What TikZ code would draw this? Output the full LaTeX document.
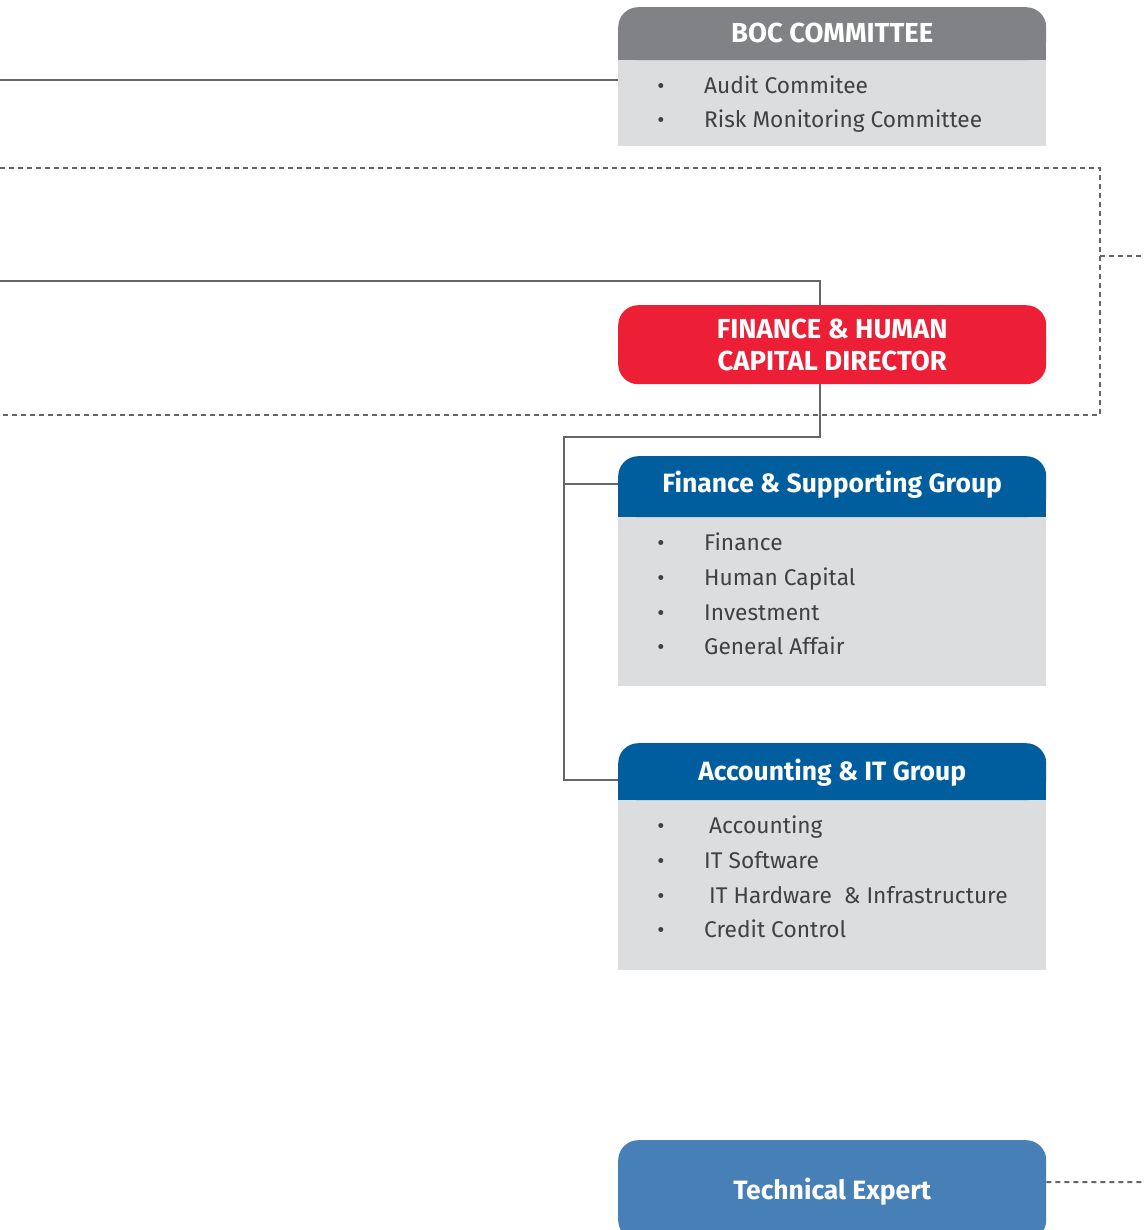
\documentclass[tikz,border=0pt]{standalone}
\usepackage{fontspec}
\setmainfont{Fira Sans}
\usetikzlibrary{calc}
\definecolor{bocgray}{HTML}{808285}
\definecolor{bodygray}{HTML}{DCDDDF}
\definecolor{dirred}{HTML}{ED1F36}
\definecolor{grpblue}{HTML}{005E9F}
\definecolor{techblue}{HTML}{4780B6}
\definecolor{linegray}{HTML}{666666}
\definecolor{txtgray}{HTML}{414042}
\tikzset{
  hdrbase/.style={rounded corners=20pt, minimum width=428pt, inner sep=0pt, text=white,
     font=\fontsize{26.5}{30}\selectfont\bfseries, anchor=north west},
  hdr/.style={hdrbase, text height=18.5pt, text depth=0pt},
  capshdr/.style={font=\fontsize{27.5}{32}\selectfont\bfseries},
  bodybox/.style={fill=bodygray, minimum width=428pt, inner sep=0pt, anchor=north west},
  item/.style={anchor=base west, inner sep=0pt, text=txtgray, font=\fontsize{22.7}{26}\selectfont},
  bul/.style={anchor=base, inner sep=0pt, text=txtgray, font=\fontsize{22}{26}\selectfont},
  conn/.style={draw=linegray, line width=2pt},
  dashconn/.style={draw=linegray, line width=2pt, dash pattern=on 5pt off 4pt},
}
\begin{document}
\begin{tikzpicture}[x=1pt,y=-1pt]
\clip (0,0) rectangle (1144,1230);
\fill[white] (0,0) rectangle (1144,1230);

% BOC committee
\node[bodybox, minimum height=86pt] (bocb) at (618,60) {};
\node[hdr, fill=bocgray, minimum height=53pt] (boch) at (618,7) {};
\fill[bocgray] (boch.west) rectangle (boch.south east);
\node[hdr, capshdr, minimum height=53pt] (bocht) at (618,7) {BOC COMMITTEE};
\node[bul] (bb1) at (661,94) {•};
\node[item] (bi1) at (704,94) {Audit Commitee};
\node[bul] (bb2) at (661,128) {•};
\node[item] (bi2) at (704,128) {Risk Monitoring Committee};

% Director
\node[hdrbase, capshdr, fill=dirred, minimum height=79pt, align=center] (dir) at (618,305) {FINANCE \& HUMAN\\CAPITAL DIRECTOR};

% Finance & Supporting Group
\node[bodybox, minimum height=169pt] (finb) at (618,517) {};
\node[hdr, fill=grpblue, minimum height=61pt] (finh) at (618,456) {};
\fill[grpblue] (finh.west) rectangle (finh.south east);
\node[hdr, minimum height=61pt, yshift=3pt] (finht) at (618,456) {Finance \& Supporting Group};
\node[bul] (fb1) at (661,550) {•};
\node[item] (fi1) at (704,550) {Finance};
\node[bul] (fb2) at (661,585) {•};
\node[item] (fi2) at (704,585) {Human Capital};
\node[bul] (fb3) at (661,620) {•};
\node[item] (fi3) at (704,620) {Investment};
\node[bul] (fb4) at (661,654) {•};
\node[item] (fi4) at (704,654) {General Affair};

% Accounting & IT Group
\node[bodybox, minimum height=170pt] (accb) at (618,800) {};
\node[hdr, fill=grpblue, minimum height=57pt] (acch) at (618,743) {};
\fill[grpblue] (acch.west) rectangle (acch.south east);
\node[hdr, minimum height=57pt] (accht) at (618,743) {Accounting \& IT Group};
\node[bul] (ab1) at (661,833) {•};
\node[item] (ai1) at (709,833) {Accounting};
\node[bul] (ab2) at (661,868) {•};
\node[item] (ai2) at (704,868) {IT Software};
\node[bul] (ab3) at (661,903) {•};
\node[item] (ai3) at (709,903) {IT Hardware\ \ \& Infrastructure};
\node[bul] (ab4) at (661,937) {•};
\node[item] (ai4) at (704,937) {Credit Control};

% Technical Expert
\node[hdr, fill=techblue, minimum height=100pt] (tech) at (618,1140) {Technical Expert};

% coordinates for free ends
\coordinate (lA) at (0,80);
\coordinate (lB) at (0,281);
\coordinate (dA) at (0,168);
\coordinate (dB) at (1100,168);
\coordinate (dC) at (1100,415);
\coordinate (dD) at (0,415);
\coordinate (dS) at (1100,256);
\coordinate (dSe) at (1144,256);
\coordinate (jn) at (564,437);
\coordinate (tE) at (1144,1182);

% connectors
\draw[conn] (lA) -- (lA -| bocb.west);
\draw[conn] (lB) -| ([xshift=-12pt]dir.north);
\draw[conn] ([xshift=-12pt]dir.south) |- (jn) |- ([yshift=-8pt]acch.west);
\draw[conn] (jn |- finh.west) ++(0,-3) -- ([yshift=3pt]finh.west);
\draw[dashconn] (dA) -- (dB) -- (dC) -- (dD);
\draw[dashconn] (dS) -- (dSe);
\draw[dashconn] ([yshift=8pt]tech.east) -- (tE);
\end{tikzpicture}
\end{document}
